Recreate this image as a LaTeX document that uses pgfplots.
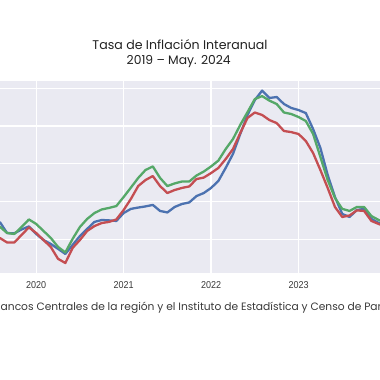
\documentclass[border=0pt]{standalone}
\usepackage{fontspec}
\usepackage{graphicx}
\usepackage{pgfplots}
\usepackage{pgfplotstable}
\pgfplotsset{compat=1.18}
\setmainfont{Poppins}
\newfontfamily\tickfont[FakeStretch=0.9]{Liberation Sans}
\definecolor{bgc}{HTML}{EAEAF2}
\definecolor{sblue}{HTML}{4C72B0}
\definecolor{sgreen}{HTML}{55A868}
\definecolor{sred}{HTML}{C44E52}
\definecolor{ttl}{HTML}{222222}
\definecolor{txt}{HTML}{3A3A3A}
\pgfplotstableread{
m blue green red
7 0.92 0.67 0.07
8 0.33 0.33 -0.17
9 0.31 0.28 -0.17
10 0.52 0.65 0.23
11 0.68 1.05 0.63
12 0.28 0.81 0.33
13 -0.04 0.44 -0.04
14 -0.25 0.07 -0.41
15 -0.51 -0.41 -1.04
16 -0.78 -0.70 -1.26
17 -0.30 0.02 -0.46
18 0.17 0.65 -0.04
19 0.55 1.08 0.44
20 0.92 1.39 0.70
21 1.02 1.58 0.86
22 1.00 1.66 0.92
23 0.97 1.76 1.05
24 1.39 2.24 1.55
25 1.61 2.74 2.14
26 1.68 3.25 2.82
27 1.74 3.67 3.14
28 1.82 3.86 3.35
29 1.50 3.25 2.82
30 1.42 2.82 2.45
31 1.71 2.96 2.61
32 1.87 3.06 2.72
33 1.95 3.06 2.80
34 2.29 3.38 3.19
35 2.45 3.59 3.27
36 2.72 3.86 3.51
37 3.09 4.17 3.78
38 3.78 4.78 4.25
39 4.52 5.31 4.78
40 5.58 6.06 5.63
41 6.59 6.74 6.43
42 7.38 7.43 6.72
43 7.88 7.59 6.59
44 7.49 7.35 6.32
45 7.54 7.17 6.16
46 7.17 6.72 5.74
47 6.96 6.64 5.68
48 6.85 6.48 5.58
49 6.69 6.27 5.21
50 5.84 5.58 4.57
51 4.84 4.36 3.67
52 3.41 3.14 2.72
53 2.24 2.19 1.71
54 1.34 1.61 1.18
55 1.18 1.50 1.26
56 1.55 1.71 1.53
57 1.61 1.71 1.50
58 1.08 1.23 0.97
59 0.86 1.02 0.81
60 0.70 0.86 0.65
}\datatable
\begin{document}
\begin{tikzpicture}[x=1pt,y=1pt]
\path[use as bounding box] (0,0) rectangle (380,380);
\clip (0,0) rectangle (380,380);
\fill[white] (0,0) rectangle (380,380);
\begin{axis}[
  at={(0pt,107pt)}, anchor=south west,
  scale only axis, width=380pt, height=192pt,
  xmin=7.033, xmax=59.18, ymin=-1.79, ymax=8.39,
  axis background/.style={fill=bgc},
  axis line style={draw=none},
  major tick length=0pt,
  grid=major, grid style={white, line width=1.3pt},
  xtick={12,24,36,48,60},
  xticklabels={2020,2021,2022,2023,2024},
  ytick={0,2,4,6,8}, yticklabels={},
  x tick label style={font=\tickfont\fontsize{10}{12}\selectfont, text=txt, anchor=north, inner sep=0pt, yshift=-8.5pt},
  clip=true,
]
\addplot[sblue, line width=2.3pt, line join=round] table[x=m, y=blue] {\datatable};
\addplot[sgreen, line width=2.3pt, line join=round] table[x=m, y=green] {\datatable};
\addplot[sred, line width=2.3pt, line join=round] table[x=m, y=red] {\datatable};
\end{axis}
\node[anchor=base, text=ttl, inner sep=0pt] at (180,330.7) {\resizebox{175pt}{!}{Tasa de Inflación Interanual}};
\node[anchor=base, text=ttl, inner sep=0pt] at (178.7,315.7) {\resizebox{104pt}{!}{2019 – May. 2024}};
\node[anchor=base west, text=txt, inner sep=0pt] at (0.5,69.7) {\resizebox{377pt}{!}{\llap{Fuente: B}ancos Centrales de la región y el Instituto de Estadística y Censo de Pa\rlap{namá}}};
\end{tikzpicture}
\end{document}
